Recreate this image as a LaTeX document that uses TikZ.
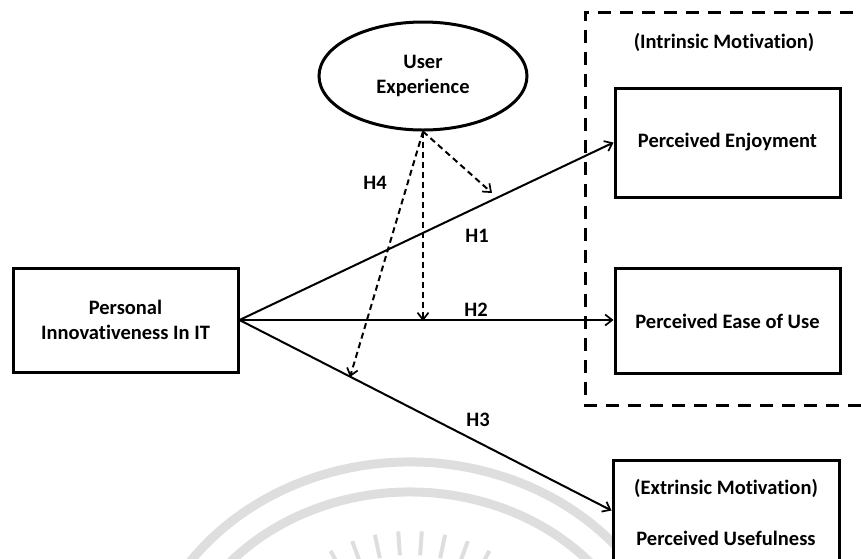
\documentclass[tikz,border=0pt]{standalone}
\usepackage{fontspec}
\setmainfont{Carlito}[Ligatures=NoCommon]
\usetikzlibrary{shapes.geometric,arrows.meta}

\tikzset{
  construct/.style={draw=black, line width=3pt, fill=white, align=center,
    font=\bfseries\fontsize{20.5}{25}\selectfont, inner sep=0pt},
  boxnode/.style={construct, rectangle, minimum width=225pt},
  tagtext/.style={font=\bfseries\fontsize{20.5}{25}\selectfont, inner sep=0pt},
  path/.style={line width=2pt, -{Straight Barb[length=7pt,width=11pt,line width=1.7pt]}},
  modpath/.style={line width=2pt, dash pattern=on 6pt off 4pt,
    -{Straight Barb[length=7pt,width=11pt,line width=1.7pt]}},
  groupframe/.style={line width=3pt, dash pattern=on 13pt off 9pt},
  watermark/.style={draw=black!13, line width=9pt}
}

\begin{document}
\begin{tikzpicture}[x=1pt, y=-1pt]
  \useasboundingbox (0,0) rectangle (861,558);

  % faint seal in the background
  \draw[watermark] (410,700) ++(200:270 and 238)
    arc[start angle=200, end angle=340, x radius=270, y radius=238];
  \draw[watermark] (410,700) ++(200:240 and 208)
    arc[start angle=200, end angle=340, x radius=240, y radius=208];
  \foreach \a in {242,250,...,298}
    \draw[draw=black!13, line width=4pt] (410,700) ++(\a:145) -- ++(\a:24);

  % dashed frame around the intrinsic motivation constructs
  \draw[groupframe] (875,12) -- (585,12) -- (585,405) -- (875,405);
  \node[tagtext] (intr) at (724,42) {(Intrinsic Motivation)};

  % constructs
  \node[boxnode, minimum height=104pt] (pii) at (125.5,320) {Personal\\Innovativeness In IT};
  \node[construct, ellipse, minimum width=208pt, minimum height=108pt] (ue) at (423,76) {User\\Experience};
  \node[boxnode, minimum height=109pt] (pe) at (727.5,142.5) {Perceived Enjoyment};
  \node[boxnode, minimum height=105pt] (peou) at (727.5,321) {Perceived Ease of Use};
  \node[boxnode, minimum width=226pt, minimum height=140pt] (pu) at (726,530) {};
  \node[tagtext] (extr) at (726,488) {(Extrinsic Motivation)};
  \node[tagtext] (puText) at (726,538) {Perceived Usefulness};

  % direct effects
  \draw[path] (pii.east) -- (pe.west);
  \draw[path, line width=1.5pt] (pii.east) -- (peou.west |- pii.east);
  \draw[path] (pii.east) -- ([yshift=-52pt]pu.north west);

  % moderating effects of user experience
  \coordinate (m1) at (492,193);
  \coordinate (m2) at (423,321);
  \coordinate (m3) at (350,377);
  \draw[modpath] (ue.south) -- (m1);
  \draw[modpath] (ue.south) -- (m2);
  \draw[modpath] (ue.south) -- (m3);

  % hypothesis labels
  \node[tagtext] (h4) at (375,183) {H4};
  \node[tagtext] (h1) at (477,236) {H1};
  \node[tagtext] (h2) at (476,310) {H2};
  \node[tagtext] (h3) at (478,420) {H3};
\end{tikzpicture}
\end{document}
